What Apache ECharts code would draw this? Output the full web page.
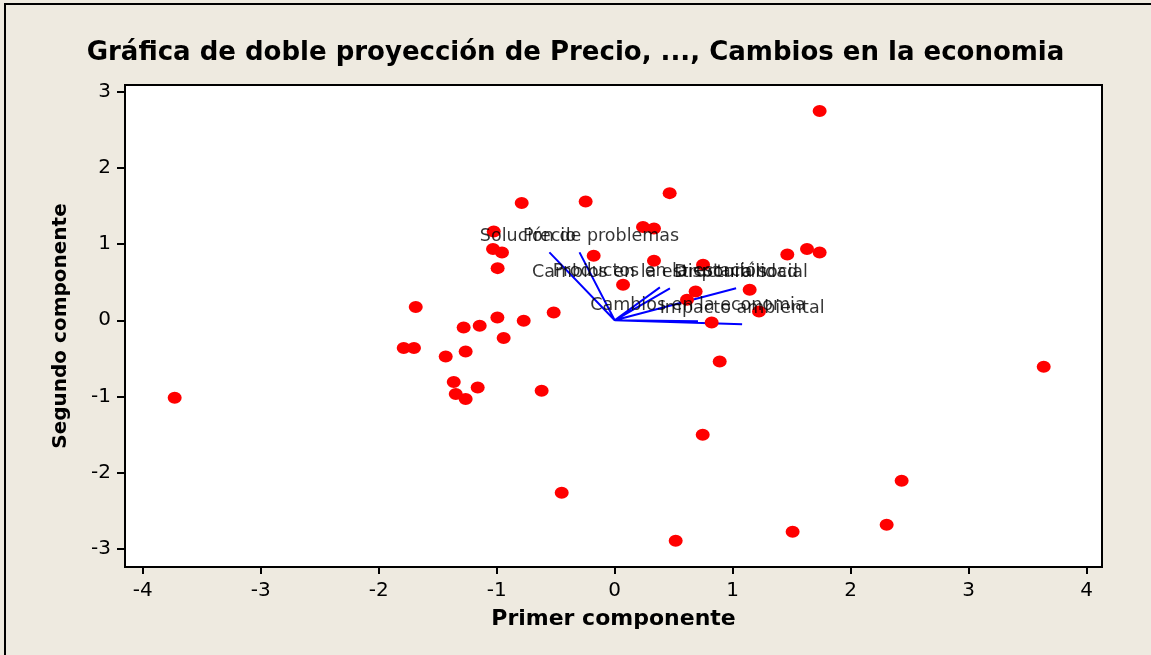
<!DOCTYPE html>
<html>
<head>
<meta charset="utf-8">
<script src="https://cdn.jsdelivr.net/npm/echarts@6/dist/echarts.min.js"></script>
<style>
  html, body { margin: 0; padding: 0; background: #EEEAE0; }
  #frame { position: absolute; left: 4px; top: 3px; width: 1147px; height: 652px; border-left: 2px solid #000; border-top: 2px solid #000; box-sizing: border-box; }
  #chart { position: absolute; left: 0; top: 0; width: 1151px; height: 655px; }
</style>
</head>
<body>
<div id="chart"></div>
<div id="frame"></div>
<script>
// ---- Data ----
const titleText = 'Gráfica de doble proyección de Precio, ..., Cambios en la economia';
const xAxisName = 'Primer componente';
const yAxisName = 'Segundo componente';
const xTicks = [-4, -3, -2, -1, 0, 1, 2, 3, 4];
const yTicks = [-3, -2, -1, 0, 1, 2, 3];

// Scores (first and second principal component)
const scoreX = [-1.686, -1.788, -1.701, -1.432, -1.280, -1.144, -1.263, -0.994, -0.941, -0.771,
                -0.517, -1.364, -1.347, -1.263, -1.161, -0.619,
                -0.788, -0.246, 0.466, -1.025, 0.240, 0.333, -1.031, -0.955, -0.992, -0.178, 0.333,
                0.071, 0.749, 1.463, 1.630, 1.737, 0.686, 0.613, 1.144, 1.223, 0.822, 0.890,
                -3.729, 1.737, 3.636, 0.746, -0.449, 0.517, 1.508, 2.305, 2.432];
const scoreY = [0.173, -0.365, -0.365, -0.475, -0.094, -0.072, -0.409, 0.037, -0.234, -0.007,
                0.102, -0.811, -0.969, -1.035, -0.882, -0.926,
                1.539, 1.560, 1.670, 1.166, 1.224, 1.206, 0.935, 0.890, 0.685, 0.847, 0.781,
                0.466, 0.729, 0.864, 0.935, 0.890, 0.378, 0.269, 0.400, 0.116, -0.029, -0.541,
                -1.017, 2.750, -0.610, -1.503, -2.265, -2.895, -2.777, -2.685, -2.107];

// Loadings (vectors from origin)
const loadingNames = ['Precio', 'Solución de problemas', 'Productos en la estación',
                      'Cambios en la estructura social', 'Disponibilidad',
                      'Cambios en la economia', 'Impacto ambiental'];
const loadingX = [-0.553, -0.298, 0.383, 0.468, 1.029, 0.706, 1.080];
const loadingY = [0.892, 0.892, 0.433, 0.420, 0.420, -0.013, -0.052];

// ---- Build ----
const scores = scoreX.map((x, i) => [x, scoreY[i]]);
const vecPath = [];
loadingX.forEach((x, i) => { vecPath.push([0, 0]); vecPath.push([x, loadingY[i]]); });
vecPath.push([0, 0]);
const vecEnds = loadingX.map((x, i) => ({ value: [x, loadingY[i]], name: loadingNames[i] }));

const axisFont = { fontFamily: 'DejaVu Sans', fontSize: 20, color: '#000' };

const chart = echarts.init(document.getElementById('chart'), null, { renderer: 'canvas' });
chart.setOption({
  backgroundColor: '#EEEAE0',
  animation: false,
  title: {
    text: titleText,
    left: 'center',
    top: 35,
    textStyle: { fontFamily: 'DejaVu Sans', fontWeight: 'bold', fontSize: 26, color: '#000' }
  },
  grid: {
    left: 125, right: 49, top: 85, bottom: 88,
    show: true, backgroundColor: '#fff', borderColor: '#000', borderWidth: 2
  },
  xAxis: {
    type: 'value', min: -4.15, max: 4.13,
    name: xAxisName, nameLocation: 'middle', nameGap: 41,
    nameTextStyle: { fontFamily: 'DejaVu Sans', fontWeight: 'bold', fontSize: 22, color: '#000' },
    axisLine: { show: false, onZero: false },
    axisTick: { show: true, length: 7, customValues: xTicks, lineStyle: { color: '#000', width: 2 } },
    axisLabel: Object.assign({ margin: 14, customValues: xTicks }, axisFont),
    splitLine: { show: false }
  },
  yAxis: {
    type: 'value', min: -3.24, max: 3.09,
    name: yAxisName, nameLocation: 'middle', nameGap: 54,
    nameTextStyle: { fontFamily: 'DejaVu Sans', fontWeight: 'bold', fontSize: 20, color: '#000' },
    axisLine: { show: false, onZero: false },
    axisTick: { show: true, length: 8, customValues: yTicks, lineStyle: { color: '#000', width: 2 } },
    axisLabel: Object.assign({ margin: 14, customValues: yTicks }, axisFont),
    splitLine: { show: false }
  },
  series: [
    {
      type: 'line', data: vecPath, symbol: 'none', silent: true, z: 1,
      lineStyle: { color: '#0000FF', width: 2 }
    },
    {
      type: 'scatter', data: scores, symbol: 'circle', symbolSize: [14, 12], z: 2,
      itemStyle: { color: '#FF0000', opacity: 1 }
    },
    {
      type: 'scatter', data: vecEnds, symbolSize: 1, z: 3,
      itemStyle: { color: 'transparent' },
      label: {
        show: true, position: 'top', distance: 6,
        formatter: p => p.name,
        fontFamily: 'DejaVu Sans', fontSize: 17.5, color: '#000'
      }
    }
  ]
});
</script>
</body>
</html>
